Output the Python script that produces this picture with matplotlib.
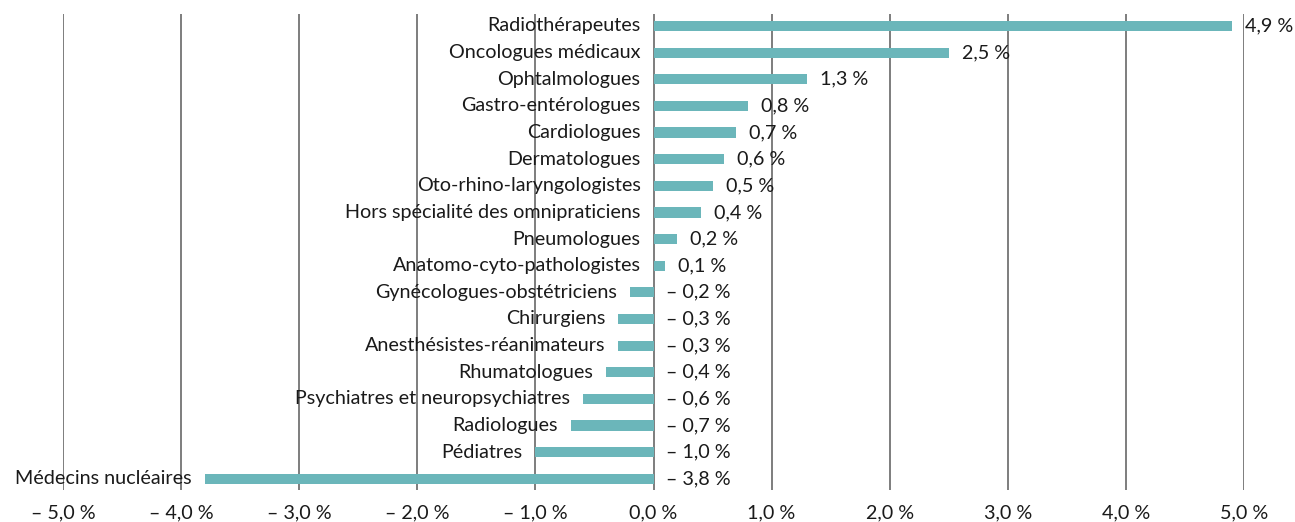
import matplotlib
matplotlib.use("Agg")
import matplotlib.pyplot as plt

categories = [
    "Radiothérapeutes", "Oncologues médicaux", "Ophtalmologues", "Gastro-entérologues",
    "Cardiologues", "Dermatologues", "Oto-rhino-laryngologistes",
    "Hors spécialité des omnipraticiens", "Pneumologues", "Anatomo-cyto-pathologistes",
    "Gynécologues-obstétriciens", "Chirurgiens", "Anesthésistes-réanimateurs",
    "Rhumatologues", "Psychiatres et neuropsychiatres", "Radiologues", "Pédiatres",
    "Médecins nucléaires",
]
values = [4.9, 2.5, 1.3, 0.8, 0.7, 0.6, 0.5, 0.4, 0.2, 0.1,
          -0.2, -0.3, -0.3, -0.4, -0.6, -0.7, -1.0, -3.8]
ticks = [-5, -4, -3, -2, -1, 0, 1, 2, 3, 4, 5]

def fmt(v):
    s = f"{abs(v):.1f}".replace(".", ",") + " %"
    return ("– " + s) if v < 0 else s

plt.rcParams['font.family'] = ['Lato', 'DejaVu Sans']
FS = 14.2

fig = plt.figure(figsize=(12.95, 5.22), dpi=100)
W, H = 1295, 522
ax = fig.add_axes([63 / W, (H - 490) / H, (1244 - 63) / W, (490 - 14) / H])
ax.set_xlim(-5, 5)
n = len(categories)
ax.set_ylim(n - 1 + 0.42, -0.45)

for t in ticks:
    ax.axvline(t, color='#5a5a5a', lw=1.1, zorder=1)

ys = list(range(n))
ax.barh(ys, values, height=0.38, color='#6bb6ba', zorder=2)

for y, v, c in zip(ys, values, categories):
    ax.annotate(c, (min(v, 0), y), xytext=(-13, 0), textcoords='offset pixels',
                ha='right', va='center', fontsize=FS, color='#1a1a1a', zorder=3)
    ax.annotate(fmt(v), (max(v, 0), y), xytext=(13, 0), textcoords='offset pixels',
                ha='left', va='center', fontsize=FS, color='#1a1a1a', zorder=3)

ax.set_xticks(ticks)
ax.set_xticklabels([fmt(t) for t in ticks], fontsize=FS, color='#1a1a1a')
ax.tick_params(axis='x', length=0, pad=10)
ax.set_yticks([])
for s in ax.spines.values():
    s.set_visible(False)

fig.savefig("out.png", dpi=100)
